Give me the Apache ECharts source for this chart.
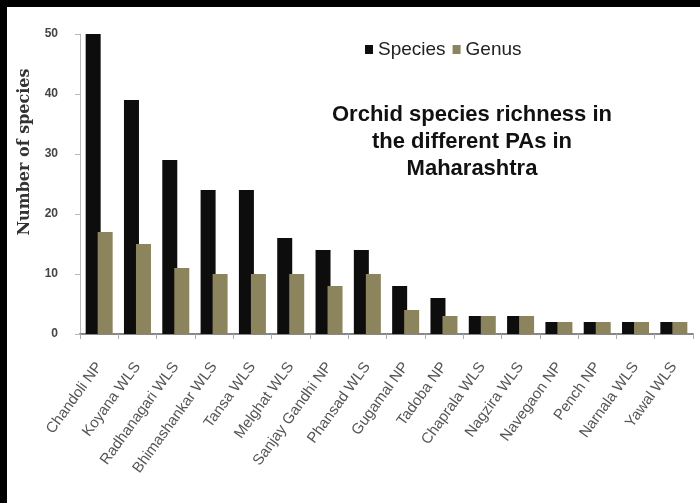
<!DOCTYPE html>
<html><head><meta charset="utf-8">
<script src="https://cdn.jsdelivr.net/npm/echarts@6/dist/echarts.min.js"></script>
<style>
html,body{margin:0;padding:0;background:#000;width:700px;height:503px;overflow:hidden}
#c{position:absolute;left:7px;top:7px;width:693px;height:496px;background:#fff}
</style></head><body><div id="c"></div>
<script>
const categories = ["Chandoli NP","Koyana WLS","Radhanagari WLS","Bhimashankar WLS","Tansa WLS","Melghat WLS","Sanjay Gandhi NP","Phansad WLS","Gugamal NP","Tadoba NP","Chaprala WLS","Nagzira WLS","Navegaon NP","Pench NP","Narnala WLS","Yawal WLS"];
const species = [50,39,29,24,24,16,14,14,8,6,3,3,2,2,2,2];
const genus = [17,15,11,10,10,10,8,10,4,3,3,3,2,2,2,2];
const yTicks = [0,10,20,30,40,50];

const chart = echarts.init(document.getElementById('c'), null, {renderer:'canvas'});
chart.setOption({
  animation:false,
  backgroundColor:'#fff',
  title:{
    text:'Orchid species richness in\nthe different PAs in\nMaharashtra',
    left:460, top:89, textAlign:'center',
    textStyle:{fontFamily:'Liberation Sans',fontWeight:'bold',fontSize:22,lineHeight:27,color:'#111'}
  },
  legend:{
    left:353, top:28, itemWidth:8, itemHeight:9, itemGap:7,
    icon:'rect',
    textStyle:{fontFamily:'Liberation Sans',fontSize:19,color:'#222'},
    data:['Species','Genus']
  },
  grid:{left:73, right:7, top:27, bottom:169},
  xAxis:{
    type:'category', data:categories,
    axisLine:{lineStyle:{color:'#888',width:2}},
    axisTick:{show:true,length:5,lineStyle:{color:'#aaa'}},
    axisLabel:{rotate:54,interval:0,margin:30,fontFamily:'Liberation Sans',fontSize:15,color:'#555'}
  },
  yAxis:{
    type:'value', min:0, max:50, interval:10,
    axisLine:{show:true,lineStyle:{color:'#bbb'}},
    axisTick:{show:true,length:5,lineStyle:{color:'#bbb'}},
    splitLine:{show:false},
    axisLabel:{margin:22,fontFamily:'Liberation Sans',fontSize:12,fontWeight:'bold',color:'#444',
      formatter:function(v){return yTicks.indexOf(v)>=0?String(v):'';}}
  },
  graphic:[{
    type:'text', x:18, y:145, rotation:Math.PI/2,
    style:{text:'Number of species',fontFamily:'DejaVu Serif',fontSize:16,fontWeight:'bold',fill:'#333',
      align:'center',verticalAlign:'middle'}
  }],
  series:[
    {name:'Species',type:'bar',data:species,barWidth:15,barGap:'-20%',
      itemStyle:{color:'#0d0d0d'}},
    {name:'Genus',type:'bar',data:genus,barWidth:15,
      itemStyle:{color:'#8c845c'}}
  ]
});
</script></body></html>
